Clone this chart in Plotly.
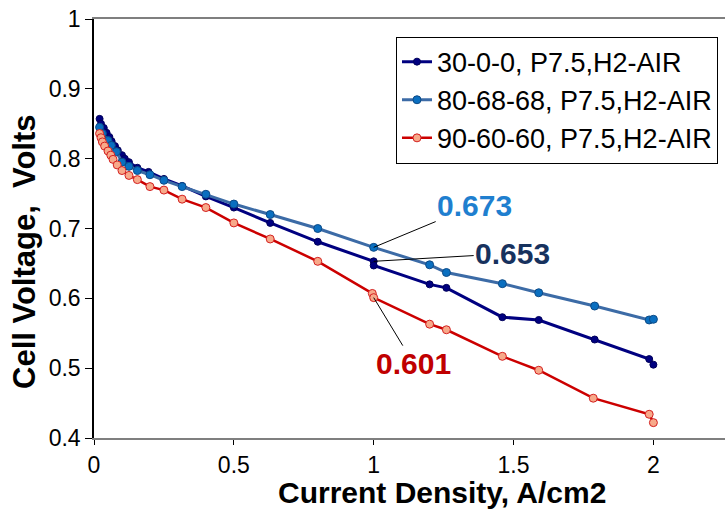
import plotly.graph_objects as go

# ---------------- data ----------------
navy_x = [0.02, 0.025, 0.035, 0.045, 0.055, 0.063, 0.075, 0.085, 0.1, 0.11, 0.125, 0.155, 0.195,
          0.25, 0.315, 0.4, 0.5, 0.63, 0.8, 1.0, 1.0, 1.2, 1.26, 1.46, 1.59, 1.79, 1.985, 2.0]
navy_y = [0.857, 0.850, 0.844, 0.837, 0.831, 0.825, 0.818, 0.812, 0.805, 0.800, 0.795, 0.787, 0.781,
          0.771, 0.761, 0.746, 0.730, 0.708, 0.681, 0.653, 0.647, 0.620, 0.615, 0.573, 0.569, 0.541, 0.513, 0.505]

blue_x = [0.02, 0.03, 0.05, 0.062, 0.08, 0.1, 0.125, 0.155, 0.2, 0.25, 0.315, 0.4, 0.5, 0.63, 0.8,
          1.0, 1.2, 1.26, 1.46, 1.59, 1.79, 1.985, 2.0]
blue_y = [0.845, 0.836, 0.826, 0.819, 0.810, 0.795, 0.789, 0.783, 0.777, 0.769, 0.760, 0.749, 0.735,
          0.720, 0.700, 0.673, 0.648, 0.637, 0.621, 0.608, 0.589, 0.569, 0.570]

red_x = [0.02, 0.025, 0.03, 0.038, 0.05, 0.06, 0.068, 0.083, 0.1, 0.125, 0.155, 0.2, 0.25, 0.315, 0.4,
         0.5, 0.63, 0.8, 0.995, 1.0, 1.2, 1.26, 1.46, 1.59, 1.785, 1.985, 2.0]
red_y = [0.836, 0.830, 0.824, 0.818, 0.811, 0.805, 0.799, 0.791, 0.783, 0.776, 0.770, 0.760, 0.755,
         0.742, 0.730, 0.708, 0.685, 0.653, 0.607, 0.601, 0.563, 0.555, 0.517, 0.497, 0.457, 0.434, 0.422]

series_names = ["30-0-0, P7.5,H2-AIR", "80-68-68, P7.5,H2-AIR", "90-60-60, P7.5,H2-AIR"]
callout_x = [1.0, 1.0, 1.0]
callout_y = [0.673, 0.653, 0.601]
callout_text = ["0.673", "0.653", "0.601"]

x_ticks = [0, 0.5, 1, 1.5, 2]
x_tick_labels = ["0", "0.5", "1", "1.5", "2"]
y_ticks = [0.4, 0.5, 0.6, 0.7, 0.8, 0.9, 1.0]
y_tick_labels = ["0.4", "0.5", "0.6", "0.7", "0.8", "0.9", "1"]

FONT = "Liberation Sans, Arial, sans-serif"

fig = go.Figure()
fig.add_trace(go.Scatter(
    x=navy_x, y=navy_y, name=series_names[0], mode="lines+markers",
    line=dict(color="#000080", width=3),
    marker=dict(size=7, color="#000080", line=dict(color="#00005a", width=1)),
))
fig.add_trace(go.Scatter(
    x=blue_x, y=blue_y, name=series_names[1], mode="lines+markers",
    line=dict(color="#3c6ba6", width=3),
    marker=dict(size=8, color="#0a6fc0", line=dict(color="#0d4a86", width=1)),
))
fig.add_trace(go.Scatter(
    x=red_x, y=red_y, name=series_names[2], mode="lines+markers",
    line=dict(color="#cc0000", width=2.5),
    marker=dict(size=8, color="#f7a98a", line=dict(color="#d42020", width=1)),
))

# callouts
callout_colors = ["#1f7fcf", "#17325e", "#c00000"]
callout_offsets = [(101, -42), (139, -8), (40, 66)]
for cx, cy, txt, col, (ax, ay) in zip(callout_x, callout_y, callout_text, callout_colors, callout_offsets):
    fig.add_annotation(
        x=cx, y=cy, xref="x", yref="y", text=txt, showarrow=True,
        arrowhead=0, arrowwidth=1, arrowcolor="black", ax=ax, ay=ay,
        font=dict(family=FONT, size=30, color=col, weight="bold"),
    )

# axis titles as annotations for precise placement
fig.add_annotation(
    x=0.551, y=0, xref="paper", yref="paper", yshift=-72.5, showarrow=False,
    text="Current Density, A/cm2", xanchor="center", yanchor="bottom",
    font=dict(family=FONT, size=30, color="black", weight="bold"),
)
fig.add_annotation(
    x=0, y=0.444, xref="paper", yref="paper", xshift=-69, showarrow=False,
    text="Cell Voltage,  Volts", textangle=-90, xanchor="center", yanchor="middle",
    font=dict(family=FONT, size=31, color="black", weight="bold"),
)

fig.update_layout(
    width=725, height=511,
    margin=dict(l=94, r=0, t=19, b=73),
    paper_bgcolor="white", plot_bgcolor="white",
    font=dict(family=FONT, color="black"),
    showlegend=True,
    legend=dict(
        x=0.4786, y=0.958, xanchor="left", yanchor="top",
        bgcolor="white", bordercolor="black", borderwidth=1,
        font=dict(family=FONT, size=27, color="black"),
        itemwidth=30,
    ),
    xaxis=dict(
        range=[0, 2.256], tickvals=x_ticks, ticktext=x_tick_labels,
        showgrid=False, zeroline=False,
        showline=True, linecolor="#7f7f7f", linewidth=2, mirror=True,
        ticks="outside", ticklen=5, tickcolor="black", tickwidth=1,
        tickfont=dict(family=FONT, size=23, color="black"),
    ),
    yaxis=dict(
        range=[0.4, 1.0], tickvals=y_ticks, ticktext=y_tick_labels,
        showgrid=False, zeroline=False,
        showline=True, linecolor="black", linewidth=1.5,
        ticks="outside", ticklen=7, tickcolor="black", tickwidth=1,
        tickfont=dict(family=FONT, size=23, color="black"),
    ),
)

fig.write_html("out.html")
